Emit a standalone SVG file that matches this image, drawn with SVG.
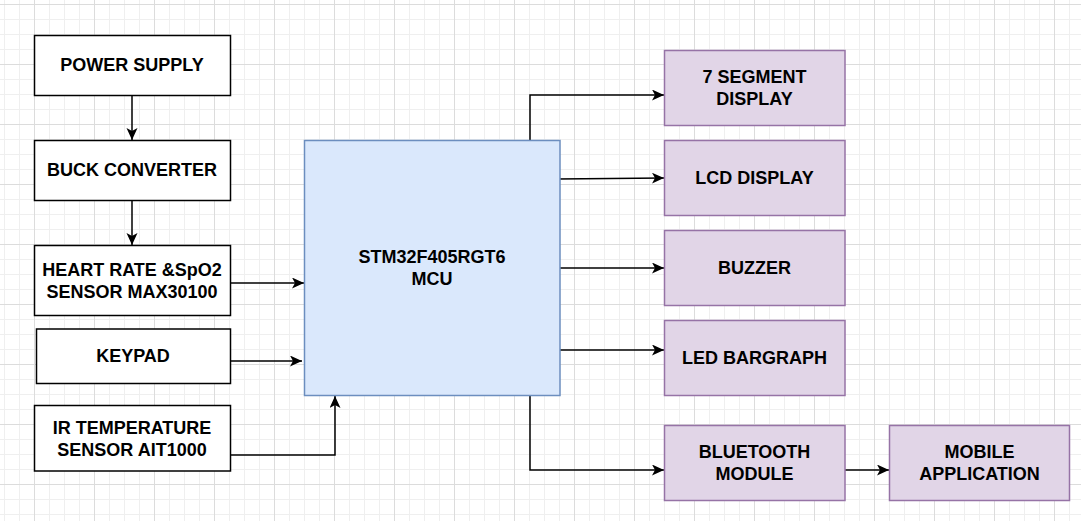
<svg xmlns="http://www.w3.org/2000/svg" width="1081" height="521" viewBox="0 0 1081 521">
<defs>
<pattern id="minor" patternUnits="userSpaceOnUse" x="34" y="4" width="15" height="15">
<path d="M0 0.5 H15 M0.5 0 V15" fill="none" stroke="#efefef" stroke-width="1"/>
</pattern>
<pattern id="major" patternUnits="userSpaceOnUse" x="34" y="4" width="60" height="60">
<path d="M0 0.5 H60 M0.5 0 V60" fill="none" stroke="#dcdcdc" stroke-width="1"/>
</pattern>
<marker id="arr" markerUnits="userSpaceOnUse" markerWidth="13" markerHeight="12" refX="12" refY="5.5" orient="auto">
<path d="M0 0 L12 5.5 L0 11 L3 5.5 Z" fill="#000"/>
</marker>
</defs>
<style>
.w{fill:#ffffff;stroke:#000000;stroke-width:1.5}
.b{fill:#dae8fc;stroke:#6c8ebf;stroke-width:1.5}
.p{fill:#e1d5e7;stroke:#9673a6;stroke-width:1.5}
text{font-family:"Liberation Sans",Arial,Helvetica,sans-serif;font-weight:bold;font-size:18px;fill:#000;text-anchor:middle}
.c{fill:none;stroke:#000;stroke-width:1.5;marker-end:url(#arr)}
</style>
<rect width="1081" height="521" fill="#ffffff"/>
<rect width="1081" height="521" fill="url(#minor)"/>
<rect width="1081" height="521" fill="url(#major)"/>

<g id="connectors">
<path class="c" d="M132 95 V140"/>
<path class="c" d="M132 200 V245"/>
<path class="c" d="M230 283 H304"/>
<path class="c" d="M230 361 H302"/>
<path class="c" d="M230 455 H335 V396"/>
<path class="c" d="M530 140 V95 H664"/>
<path class="c" d="M557 179 L664 178"/>
<path class="c" d="M560 268 H664"/>
<path class="c" d="M560 350 H664"/>
<path class="c" d="M530 395 V470 H664"/>
<path class="c" d="M845 470 H889"/>
</g>

<g id="power-supply"><rect class="w" x="34.5" y="35.5" width="196" height="60"/><text x="132" y="71">POWER SUPPLY</text></g>
<g id="buck-converter"><rect class="w" x="34.5" y="140.5" width="196" height="60"/><text x="132" y="176">BUCK CONVERTER</text></g>
<g id="heart-rate-sensor"><rect class="w" x="34.5" y="245.5" width="196" height="70"/><text x="132" y="276">HEART RATE &amp;SpO2</text><text x="132" y="297.7">SENSOR MAX30100</text></g>
<g id="keypad"><rect class="w" x="36.5" y="329" width="194" height="54.5"/><text x="133" y="361.7">KEYPAD</text></g>
<g id="ir-temperature-sensor"><rect class="w" x="34.5" y="405.5" width="196" height="65.5"/><text x="132" y="434">IR TEMPERATURE</text><text x="132" y="455.7">SENSOR AIT1000</text></g>

<g id="mcu"><rect class="b" x="304.5" y="140.5" width="255.5" height="255"/><text x="432" y="263.3">STM32F405RGT6</text><text x="432" y="285">MCU</text></g>

<g id="seven-segment"><rect class="p" x="664.5" y="50.5" width="180.5" height="75"/><text x="754.5" y="83.3">7 SEGMENT</text><text x="754.5" y="105">DISPLAY</text></g>
<g id="lcd-display"><rect class="p" x="664.5" y="140.5" width="180.5" height="75"/><text x="754.5" y="184.3">LCD DISPLAY</text></g>
<g id="buzzer"><rect class="p" x="664.5" y="230.5" width="180.5" height="75"/><text x="754.5" y="274">BUZZER</text></g>
<g id="led-bargraph"><rect class="p" x="664.5" y="320.5" width="180.5" height="75"/><text x="754.5" y="364">LED BARGRAPH</text></g>
<g id="bluetooth-module"><rect class="p" x="664.5" y="425.5" width="180.5" height="75"/><text x="754.5" y="458.3">BLUETOOTH</text><text x="754.5" y="480">MODULE</text></g>
<g id="mobile-application"><rect class="p" x="889.5" y="425.5" width="180" height="75"/><text x="979.5" y="458.3">MOBILE</text><text x="979.5" y="480">APPLICATION</text></g>
</svg>
